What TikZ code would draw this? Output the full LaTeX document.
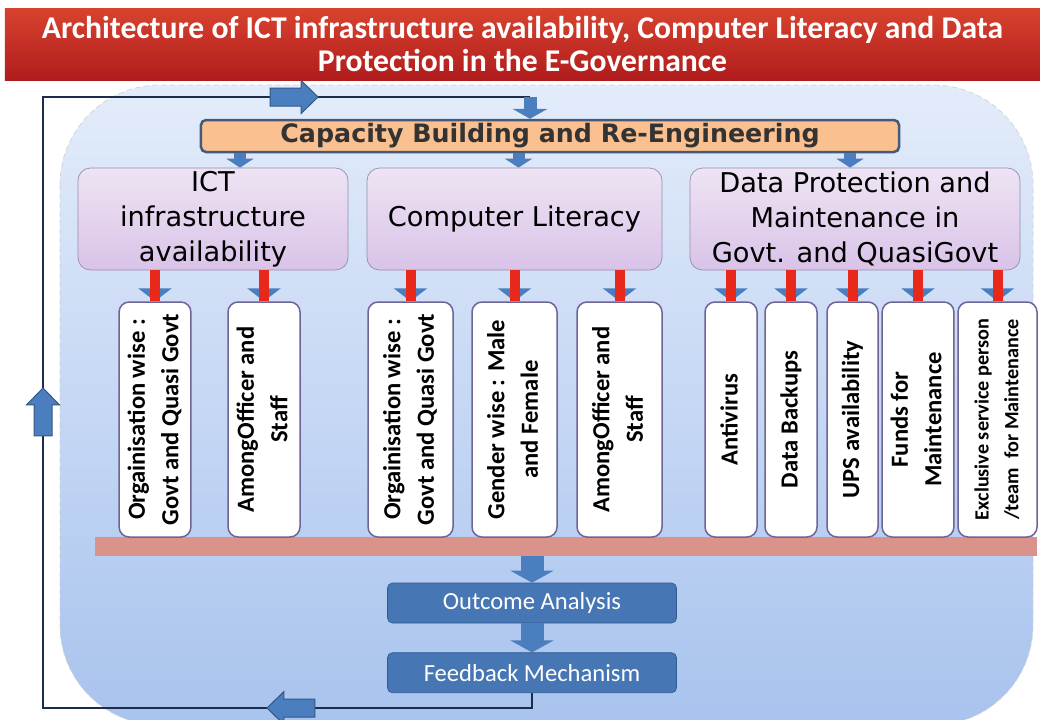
\documentclass[tikz,border=0pt]{standalone}
\usepackage{fontspec}
\usepackage{graphicx}
\setmainfont{Carlito}
\newfontfamily\headfont{DejaVu Sans}
\usetikzlibrary{positioning,calc,arrows.meta,decorations.markings}

\definecolor{bannertop}{HTML}{D8432F}
\definecolor{bannerbot}{HTML}{B01C1C}
\definecolor{paneltop}{HTML}{E3ECFA}
\definecolor{panelbot}{HTML}{A8C3EE}
\definecolor{capfill}{HTML}{FAC08F}
\definecolor{capedge}{HTML}{46597A}
\definecolor{headtop}{HTML}{EEE4F4}
\definecolor{headbot}{HTML}{D9C3E8}
\definecolor{headedge}{HTML}{9A8CB0}
\definecolor{leafedge}{HTML}{6E6496}
\definecolor{barfill}{HTML}{D9938A}
\definecolor{outfill}{HTML}{4676B4}
\definecolor{outedge}{HTML}{325A91}
\definecolor{arrowblue}{HTML}{4A7EBE}
\definecolor{stemred}{HTML}{E8281A}
\definecolor{loopnavy}{HTML}{1B2D4B}

% rotated label for the narrow boxes
\newcommand{\vlabel}[1]{\rotatebox{90}{\begin{tabular}{@{}c@{}}#1\end{tabular}}}

\tikzset{
    banner/.style={rectangle, top color=bannertop, bottom color=bannerbot, text=white,
        minimum width=207mm, minimum height=14.4mm, inner sep=0pt, align=center,
        font=\bfseries\fontsize{18}{18.5}\selectfont},
    panel/.style={rounded corners=20mm, top color=paneltop, bottom color=panelbot,
        draw=gray!35, densely dashed, thin},
    capbox/.style={rectangle, rounded corners=1mm, draw=capedge, line width=0.5mm, fill=capfill,
        minimum width=139.6mm, minimum height=6.4mm, inner sep=0pt, text=black!80,
        font=\headfont\bfseries\fontsize{14.4}{16}\selectfont},
    headbox/.style={rectangle, rounded corners=2.5mm, draw=headedge, top color=headtop,
        bottom color=headbot, minimum height=20.4mm, inner sep=0pt, align=center,
        font=\headfont\fontsize{15.5}{20}\selectfont},
    leaf/.style={rectangle, rounded corners=2mm, draw=leafedge, line width=0.3mm, fill=white,
        minimum height=47mm, inner sep=0.5mm, font=\bfseries\fontsize{14}{19}\selectfont},
    barstrip/.style={rectangle, fill=barfill, minimum width=188.4mm, minimum height=3.8mm, inner sep=0pt},
    outbox/.style={rectangle, rounded corners=1mm, draw=outedge, fill=outfill, text=white,
        minimum width=57.8mm, minimum height=8mm, font=\fontsize{14}{16}\selectfont},
    fatarrow/.style={draw=arrowblue, line width=2.4mm, -{Triangle[width=5.4mm,length=1.8mm]}},
    outarrow/.style={draw=arrowblue, line width=4.6mm, -{Triangle[width=8.6mm,length=2.4mm]}},
    stem/.style={draw=arrowblue, line width=2mm, -{Triangle[width=6.6mm,length=2.6mm]},
        postaction={draw=stemred, line width=2mm, -}},
    pics/loopmark/.style={code={
        \filldraw[fill=arrowblue, draw=arrowblue!70!black, line width=0.2mm]
          (-4.8mm,-1.8mm) -- (1.4mm,-1.8mm) -- (1.4mm,-3.3mm) -- (4.8mm,0mm)
          -- (1.4mm,3.3mm) -- (1.4mm,1.8mm) -- (-4.8mm,1.8mm) -- cycle;}},
    loopline/.style={draw=loopnavy, line width=0.5mm, postaction={decorate}},
}

\begin{document}
\begin{tikzpicture}[x=0.2mm, y=-0.2mm]
  \useasboundingbox (0,0) rectangle (1040,719);
  \clip (0,0) rectangle (1040,719);

  % background
  \fill[white] (0,0) rectangle (1040,719);
  \path[panel] (60,85) rectangle (1033,725);
  \node[banner] (title) at (522.5,44)
    {Architecture of ICT infrastructure availability, Computer Literacy and Data\\Protection in the E-Governance};

  % feedback loop
  \coordinate (lb) at (43,708);
  \coordinate (lt) at (43,97);
  \coordinate (tp) at (530,97);

  \node[capbox] (cap) at (550,136) {Capacity Building and Re-Engineering};

  \node[headbox, minimum width=54mm] (ict) at (213,219) {ICT\\infrastructure\\availability};
  \node[headbox, minimum width=59mm] (lit) at (514.5,219) {Computer Literacy};
  \node[headbox, minimum width=66mm] (dp)  at (855,219) {Data Protection and\\Maintenance in\\Govt. and QuasiGovt};

  \coordinate (ictin) at ($(ict.north)+(27,0)$);
  \coordinate (litin) at ($(lit.north)+(4,0)$);
  \coordinate (dpin)  at ($(dp.north)+(-5,0)$);
  \draw[fatarrow] (cap.south -| ictin) -- (ictin);
  \draw[fatarrow] (cap.south -| litin) -- (litin);
  \draw[fatarrow] (cap.south -| dpin) -- (dpin);

  \node[barstrip] (bar) at (566,546.5) {};

  % second level
  \node[leaf, minimum width=14mm]   (l1)  at (155,419.5)   {\vlabel{Orgainisation wise :\\Govt and Quasi Govt}};
  \node[leaf, minimum width=14.4mm] (l2)  at (264,419.5)   {\vlabel{AmongOfficer and\\Staff}};
  \node[leaf, minimum width=17mm]   (l3)  at (410.5,419.5) {\vlabel{Orgainisation wise :\\Govt and Quasi Govt}};
  \node[leaf, minimum width=17mm]   (l4)  at (514.5,419.5) {\vlabel{Gender wise : Male\\and Female}};
  \node[leaf, minimum width=17mm]   (l5)  at (619.5,419.5) {\vlabel{AmongOfficer and\\Staff}};
  \node[leaf, minimum width=10.4mm] (l6)  at (731,419.5)   {\vlabel{Antivirus}};
  \node[leaf, minimum width=10.4mm] (l7)  at (791,419.5)   {\vlabel{Data Backups}};
  \node[leaf, minimum width=10.2mm] (l8)  at (852.5,419.5) {\vlabel{UPS availability}};
  \node[leaf, minimum width=12mm]   (l9)  at (918,419.5)   {\vlabel{Funds for\\Maintenance}};
  \node[leaf, minimum width=15.8mm, font=\bfseries\fontsize{11.5}{17}\selectfont]
                                    (l10) at (997.5,419.5) {\vlabel{Exclusive service person\\/team\ \ for Maintenance}};

  \foreach \l in {l1,l2} \draw[stem] (ict.south -| \l) -- (\l.north);
  \foreach \l in {l3,l4,l5} \draw[stem] (lit.south -| \l) -- (\l.north);
  \foreach \l in {l6,l7,l8,l9,l10} \draw[stem] (dp.south -| \l) -- (\l.north);

  \node[outbox] (out) at (532,603) {Outcome Analysis};
  \node[outbox] (fb) [below=5.8mm of out] {Feedback Mechanism};
  \draw[outarrow] (bar.south -| out) -- (out.north);
  \draw[outarrow] (out.south) -- (fb.north);

  \draw[loopline, decoration={markings,
      mark=at position 51.2mm with {\pic[transform shape]{loopmark};},
      mark=at position 160mm with {\pic[transform shape]{loopmark};},
      mark=at position 273.2mm with {\pic[transform shape]{loopmark};}}]
    (fb.south) |- (lb) -- (lt) -- (tp);
  \draw[fatarrow, line width=2.6mm, -{Triangle[width=7mm,length=2mm]}] (tp) -- (cap.north -| tp);
\end{tikzpicture}
\end{document}
